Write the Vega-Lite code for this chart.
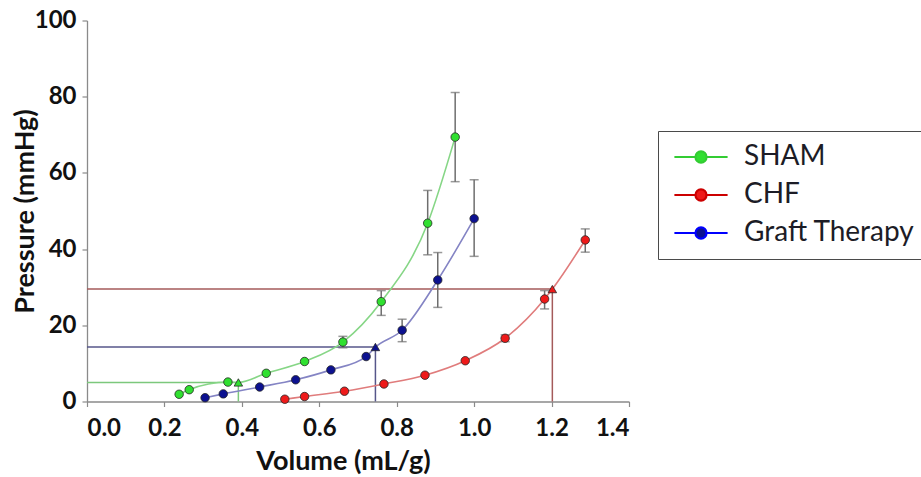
{
  "$schema": "https://vega.github.io/schema/vega-lite/v6.json",
  "width": 542,
  "height": 381,
  "autosize": {"type": "none"},
  "padding": {"left": 87, "top": 20.5, "right": 292, "bottom": 75.5},
  "background": "white",
  "config": {
    "view": {"stroke": null},
    "axis": {
      "grid": false,
      "domainColor": "#8a8a8a",
      "domainWidth": 1.3,
      "tickColor": "#8a8a8a",
      "tickWidth": 1.2,
      "tickSize": 5,
      "labelFont": "Lato",
      "labelFontWeight": "bold",
      "labelFontSize": 24,
      "labelColor": "#111111",
      "titleFont": "Lato",
      "titleFontWeight": "bold",
      "titleFontSize": 27,
      "titleColor": "#111111"
    }
  },
  "datasets": {
    "pts": [
      {"series": "SHAM", "v": 0.238, "p": 1.9, "kind": "circle"},
      {"series": "SHAM", "v": 0.264, "p": 3.1, "kind": "circle"},
      {"series": "SHAM", "v": 0.364, "p": 5.1, "kind": "circle"},
      {"series": "SHAM", "v": 0.391, "p": 5.0, "kind": "triangle"},
      {"series": "SHAM", "v": 0.463, "p": 7.4, "kind": "circle"},
      {"series": "SHAM", "v": 0.562, "p": 10.5, "kind": "circle"},
      {"series": "SHAM", "v": 0.661, "p": 15.6, "kind": "circle"},
      {"series": "SHAM", "v": 0.760, "p": 26.2, "kind": "circle"},
      {"series": "SHAM", "v": 0.880, "p": 46.8, "kind": "circle"},
      {"series": "SHAM", "v": 0.951, "p": 69.4, "kind": "circle"},
      {"series": "CHF", "v": 0.511, "p": 0.6, "kind": "circle"},
      {"series": "CHF", "v": 0.562, "p": 1.3, "kind": "circle"},
      {"series": "CHF", "v": 0.665, "p": 2.7, "kind": "circle"},
      {"series": "CHF", "v": 0.767, "p": 4.6, "kind": "circle"},
      {"series": "CHF", "v": 0.873, "p": 6.9, "kind": "circle"},
      {"series": "CHF", "v": 0.977, "p": 10.7, "kind": "circle"},
      {"series": "CHF", "v": 1.080, "p": 16.6, "kind": "circle"},
      {"series": "CHF", "v": 1.182, "p": 26.9, "kind": "circle"},
      {"series": "CHF", "v": 1.202, "p": 29.5, "kind": "triangle"},
      {"series": "CHF", "v": 1.287, "p": 42.4, "kind": "circle"},
      {"series": "Graft Therapy", "v": 0.305, "p": 1.0, "kind": "circle"},
      {"series": "Graft Therapy", "v": 0.352, "p": 2.0, "kind": "circle"},
      {"series": "Graft Therapy", "v": 0.446, "p": 3.8, "kind": "circle"},
      {"series": "Graft Therapy", "v": 0.539, "p": 5.7, "kind": "circle"},
      {"series": "Graft Therapy", "v": 0.630, "p": 8.3, "kind": "circle"},
      {"series": "Graft Therapy", "v": 0.721, "p": 11.8, "kind": "circle"},
      {"series": "Graft Therapy", "v": 0.745, "p": 14.3, "kind": "triangle"},
      {"series": "Graft Therapy", "v": 0.814, "p": 18.7, "kind": "circle"},
      {"series": "Graft Therapy", "v": 0.906, "p": 31.9, "kind": "circle"},
      {"series": "Graft Therapy", "v": 1.0, "p": 48.0, "kind": "circle"}
    ],
    "err": [
      {"series": "SHAM", "v": 0.661, "lo": 14.1, "hi": 17.1},
      {"series": "SHAM", "v": 0.760, "lo": 22.6, "hi": 29.1},
      {"series": "SHAM", "v": 0.880, "lo": 38.5, "hi": 55.4},
      {"series": "SHAM", "v": 0.951, "lo": 57.7, "hi": 81.1},
      {"series": "Graft Therapy", "v": 0.814, "lo": 15.7, "hi": 21.6},
      {"series": "Graft Therapy", "v": 0.906, "lo": 24.7, "hi": 39.1},
      {"series": "Graft Therapy", "v": 1.0, "lo": 38.1, "hi": 58.2},
      {"series": "CHF", "v": 1.080, "lo": 15.7, "hi": 17.5},
      {"series": "CHF", "v": 1.182, "lo": 24.3, "hi": 29.1},
      {"series": "CHF", "v": 1.287, "lo": 39.2, "hi": 45.3}
    ],
    "refs": [
      {"series": "SHAM", "v0": 0, "v": 0.391, "p0": 0, "p": 5.0},
      {"series": "Graft Therapy", "v0": 0, "v": 0.745, "p0": 0, "p": 14.3},
      {"series": "CHF", "v0": 0, "v": 1.202, "p0": 0, "p": 29.5}
    ]
  },
  "layer": [
    {
      "data": {"name": "refs"},
      "mark": {"type": "rule", "strokeWidth": 1.5},
      "encoding": {
        "x": {"field": "v0", "type": "quantitative", "title": "Volume (mL/g)", "scale": {"domain": [0, 1.4], "nice": false, "zero": false},
          "axis": {"values": [0, 0.2, 0.4, 0.6, 0.8, 1.0, 1.2, 1.4], "format": ".1f", "labelPadding": 10, "titleX": 256, "titleY": 60, "titleBaseline": "middle"}},
        "x2": {"field": "v"},
        "y": {"field": "p", "type": "quantitative", "title": "Pressure (mmHg)", "scale": {"domain": [0, 100], "nice": false},
          "axis": {"values": [0, 20, 40, 60, 80, 100], "labelPadding": 6, "titleX": -62, "titleBaseline": "middle"}},
        "color": {"field": "series", "type": "nominal", "legend": null,
          "scale": {"domain": ["CHF", "SHAM", "Graft Therapy"], "range": ["#a45a5a", "#7cc87c", "#56568a"]}}
      }
    },
    {
      "data": {"name": "refs"},
      "mark": {"type": "rule", "strokeWidth": 1.5},
      "encoding": {
        "x": {"field": "v", "type": "quantitative", "title": "Volume (mL/g)"},
        "y": {"field": "p0", "type": "quantitative", "title": "Pressure (mmHg)"},
        "y2": {"field": "p"},
        "color": {"field": "series", "type": "nominal", "legend": null}
      }
    },
    {
      "data": {"name": "pts"},
      "mark": {"type": "line", "interpolate": "monotone", "strokeWidth": 1.6},
      "encoding": {
        "x": {"field": "v", "type": "quantitative", "title": "Volume (mL/g)"},
        "y": {"field": "p", "type": "quantitative", "title": "Pressure (mmHg)"},
        "order": {"field": "v", "type": "quantitative"},
        "stroke": {"field": "series", "type": "nominal", "legend": null,
          "scale": {"domain": ["Graft Therapy", "CHF", "SHAM"], "range": ["#8484c4", "#e07c7c", "#86d686"]}}
      }
    },
    {
      "data": {"name": "err"},
      "mark": {"type": "errorbar", "rule": {"color": "#6e6e6e", "strokeWidth": 1.5}, "ticks": {"color": "#6e6e6e", "size": 9, "thickness": 1.5}},
      "encoding": {
        "x": {"field": "v", "type": "quantitative", "title": "Volume (mL/g)"},
        "y": {"field": "lo", "type": "quantitative", "title": "Pressure (mmHg)"},
        "y2": {"field": "hi"}
      }
    },
    {
      "data": {"name": "pts"},
      "mark": {"type": "point", "filled": true, "size": 72, "stroke": "#262626", "strokeWidth": 0.8, "opacity": 1},
      "encoding": {
        "x": {"field": "v", "type": "quantitative", "title": "Volume (mL/g)"},
        "y": {"field": "p", "type": "quantitative", "title": "Pressure (mmHg)"},
        "shape": {"field": "kind", "type": "nominal", "legend": null,
          "scale": {"domain": ["circle", "triangle"], "range": ["circle", "triangle-up"]}},
        "fill": {"field": "series", "type": "nominal",
          "scale": {"domain": ["SHAM", "CHF", "Graft Therapy"], "range": ["#30e030", "#ee1a1a", "#0c1190"]},
          "legend": {
            "title": null,
            "orient": "none",
            "legendX": 571,
            "legendY": 110.5,
            "padding": 12,
            "strokeColor": "#4a4a4a",
            "fillColor": "white",
            "symbolType": "M-3.8,0L-0.79,0M0.79,0L3.8,0M-0.79,0A0.79,0.79,0,1,1,0.79,0A0.79,0.79,0,1,1,-0.79,0Z",
            "symbolSize": 196,
            "symbolOffset": 17,
            "labelOffset": 29,
            "labelLimit": 0,
            "labelFont": "Lato",
            "labelFontSize": 28,
            "labelColor": "#1c1c26",
            "rowPadding": 10,
            "encoding": {
              "symbols": {
                "shape": {"value": "M-3.8,0L-0.79,0M0.79,0L3.8,0M-0.79,0A0.79,0.79,0,1,1,0.79,0A0.79,0.79,0,1,1,-0.79,0Z"},
                "fill": {"condition": [
                    {"test": "datum.value === 'SHAM'", "value": "#22b822"},
                    {"test": "datum.value === 'CHF'", "value": "#b80000"}
                  ], "value": "#0000e8"},
                "stroke": {"condition": [
                    {"test": "datum.value === 'SHAM'", "value": "#33cc33"},
                    {"test": "datum.value === 'CHF'", "value": "#cc0000"}
                  ], "value": "#0000ff"},
                "strokeWidth": {"value": 2.2},
                "opacity": {"value": 1}
              }
            }
          }
        }
      }
    }
  ]
}
